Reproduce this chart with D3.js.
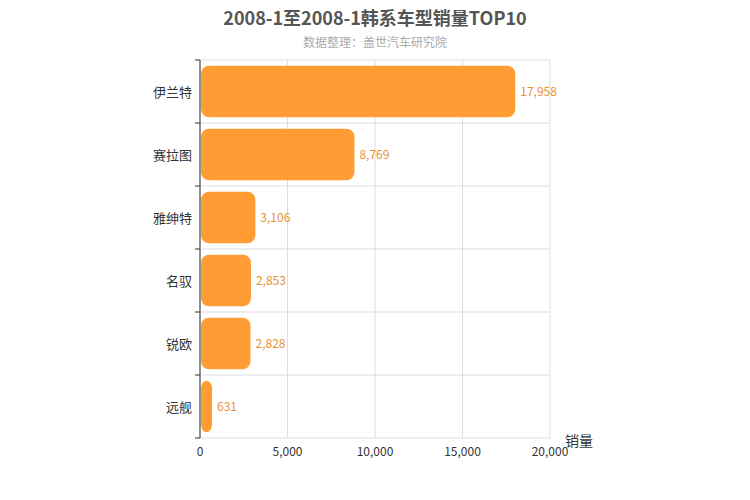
<!DOCTYPE html>
<html><head><meta charset="utf-8">
<script src="https://cdn.jsdelivr.net/npm/d3@7"></script>
<style>body{margin:0;background:#fff}svg{font-family:"Microsoft YaHei","Noto Sans CJK SC",sans-serif}</style>
</head><body><svg id="c" width="750" height="500"></svg>
<script>
const categories=["伊兰特","赛拉图","雅绅特","名驭","锐欧","远舰"];
const values=[17958,8769,3106,2853,2828,631];
const xTicks=[0,5000,10000,15000,20000];
const svg=d3.select("#c");
const L=200,R=550,T=60,B=438;
const x=d3.scaleLinear().domain([0,20000]).range([L,R]);
const y=d3.scaleBand().domain(categories).range([T,B]).paddingInner(0.18).paddingOuter(0.09);
const step=(B-T)/categories.length;
const g=svg.append("g");
xTicks.forEach(t=>g.append("line").attr("x1",x(t)).attr("x2",x(t)).attr("y1",T).attr("y2",B).attr("stroke","#ddd"));
for(let i=0;i<=categories.length;i++)g.append("line").attr("x1",L).attr("x2",R).attr("y1",T+i*step).attr("y2",T+i*step).attr("stroke","#ddd");
g.append("line").attr("x1",L).attr("x2",L).attr("y1",T).attr("y2",B).attr("stroke","#333");
for(let i=0;i<=categories.length;i++)g.append("line").attr("x1",L-5).attr("x2",L).attr("y1",T+i*step).attr("y2",T+i*step).attr("stroke","#333");
g.selectAll(".b").data(values).join("rect").attr("x",L+1).attr("y",(d,i)=>y(categories[i])).attr("width",d=>x(d)-L).attr("height",y.bandwidth()).attr("rx",8).attr("fill","#ff9c33");
g.selectAll(".v").data(values).join("text").attr("x",d=>x(d)+6).attr("y",(d,i)=>y(categories[i])+y.bandwidth()/2+4).attr("font-size",12).attr("fill","#e8912f").text(d=>d3.format(",")(d));
g.selectAll(".c").data(categories).join("text").attr("x",L-8).attr("y",d=>y(d)+y.bandwidth()/2+5).attr("text-anchor","end").attr("font-size",13).attr("fill","#333").text(d=>d);
xTicks.forEach(t=>g.append("text").attr("x",x(t)).attr("y",B+18).attr("text-anchor","middle").attr("font-size",12).attr("fill","#333").text(d3.format(",")(t)));
svg.append("text").attr("x",565).attr("y",446).attr("font-size",14).attr("fill","#333").text("销量");
svg.append("text").attr("x",375).attr("y",25).attr("text-anchor","middle").attr("font-size",18).attr("font-weight","bold").attr("fill","#555").text("2008-1至2008-1韩系车型销量TOP10");
svg.append("text").attr("x",375).attr("y",47).attr("text-anchor","middle").attr("font-size",12).attr("fill","#aaa").text("数据整理：盖世汽车研究院");
</script></body></html>
